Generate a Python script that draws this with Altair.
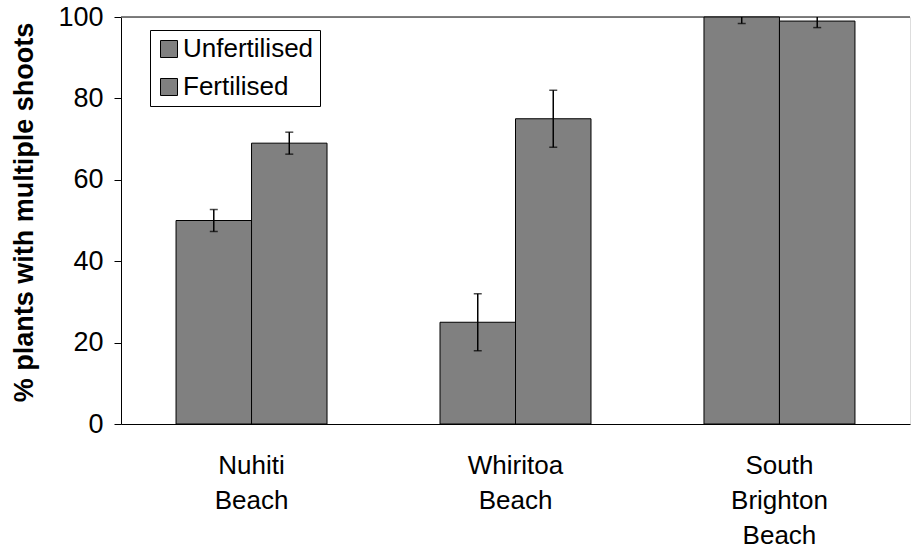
import altair as alt
import pandas as pd

# Sites and treatment groups
sites = ["Nuhiti Beach", "Whiritoa Beach", "South Brighton Beach"]
treatments = ["Unfertilised", "Fertilised"]

# Mean % of plants with multiple shoots, and error (±) per site
unfertilised = [50, 25, 100]
fertilised = [69, 75, 99]
unfertilised_err = [2.7, 7.0, 1.6]
fertilised_err = [2.7, 7.0, 1.6]

rows = []
for i, s in enumerate(sites):
    rows.append({"site": s, "treatment": treatments[0], "value": unfertilised[i],
                 "lo": unfertilised[i] - unfertilised_err[i], "hi": unfertilised[i] + unfertilised_err[i]})
    rows.append({"site": s, "treatment": treatments[1], "value": fertilised[i],
                 "lo": fertilised[i] - fertilised_err[i], "hi": fertilised[i] + fertilised_err[i]})
df = pd.DataFrame(rows)

FONT = "Liberation Sans"
W, H = 789, 407

x_enc = alt.X(
    "site:N",
    sort=sites,
    title=None,
    scale=alt.Scale(paddingInner=0.428, paddingOuter=0.2085),
    axis=alt.Axis(
        labelAngle=0,
        labelExpr="split(datum.label, ' ')",
        labelFontSize=26,
        labelLineHeight=35,
        labelPadding=28,
        labelColor="black",
        labelFont=FONT,
        ticks=False,
        domainColor="black",
        domainWidth=1,
    ),
)
xoff = alt.XOffset("treatment:N", sort=treatments, scale=alt.Scale(paddingInner=0, paddingOuter=0))
y_scale = alt.Scale(domain=[0, 100], nice=False)

bars = alt.Chart(df).mark_bar(stroke="black", strokeWidth=1, opacity=1).encode(
    x=x_enc,
    xOffset=xoff,
    y=alt.Y(
        "value:Q",
        scale=y_scale,
        title="% plants with multiple shoots",
        axis=alt.Axis(
            values=[0, 20, 40, 60, 80, 100],
            grid=False,
            domainColor="black",
            domainWidth=1,
            tickColor="black",
            tickSize=7,
            labelFontSize=27,
            labelPadding=11,
            labelColor="black",
            labelFont=FONT,
            titleFont=FONT,
            titleFontSize=27,
            titleFontWeight="bold",
            titleColor="black",
            titlePadding=19,
            titleY=195,
        ),
    ),
    color=alt.Color(
        "treatment:N",
        sort=treatments,
        scale=alt.Scale(domain=treatments, range=["#808080", "#808080"]),
        legend=alt.Legend(
            title=None,
            orient="none",
            legendX=29,
            legendY=13,
            symbolType="square",
            symbolSize=289,
            symbolStrokeColor="black",
            symbolStrokeWidth=1,
            symbolFillColor="#808080",
            symbolOpacity=1,
            labelFontSize=26,
            labelFont=FONT,
            labelColor="black",
            labelOffset=1,
            rowPadding=12,
            padding=6,
            strokeColor="black",
            fillColor="white",
        ),
    ),
)

err = alt.Chart(df).mark_rule(color="black", strokeWidth=1.5, clip=True).encode(
    x=alt.X("site:N", sort=sites),
    xOffset=xoff,
    y=alt.Y("lo:Q", scale=y_scale),
    y2="hi:Q",
)

cap_lo = alt.Chart(df).mark_tick(color="black", thickness=1.5, size=8, orient="horizontal", clip=True).encode(
    x=alt.X("site:N", sort=sites),
    xOffset=xoff,
    y=alt.Y("lo:Q", scale=y_scale),
)
cap_hi = alt.Chart(df).mark_tick(color="black", thickness=1.5, size=8, orient="horizontal", clip=True).encode(
    x=alt.X("site:N", sort=sites),
    xOffset=xoff,
    y=alt.Y("hi:Q", scale=y_scale),
)

# Plot-area border along the top edge
top_line = alt.Chart(pd.DataFrame({"v": [100]})).mark_rule(color="#555555", strokeWidth=1.5).encode(
    y=alt.Y("v:Q", scale=y_scale),
)

chart = (
    alt.layer(top_line, bars, err, cap_lo, cap_hi)
    .properties(width=W, height=H, autosize=alt.AutoSizeParams(type="none"),
                padding={"left": 121, "top": 17, "right": 1, "bottom": 127})
    .configure_view(stroke=None)
    .configure(background="white")
)

chart.save("out.html", embed_options={"renderer": "svg", "actions": False})
